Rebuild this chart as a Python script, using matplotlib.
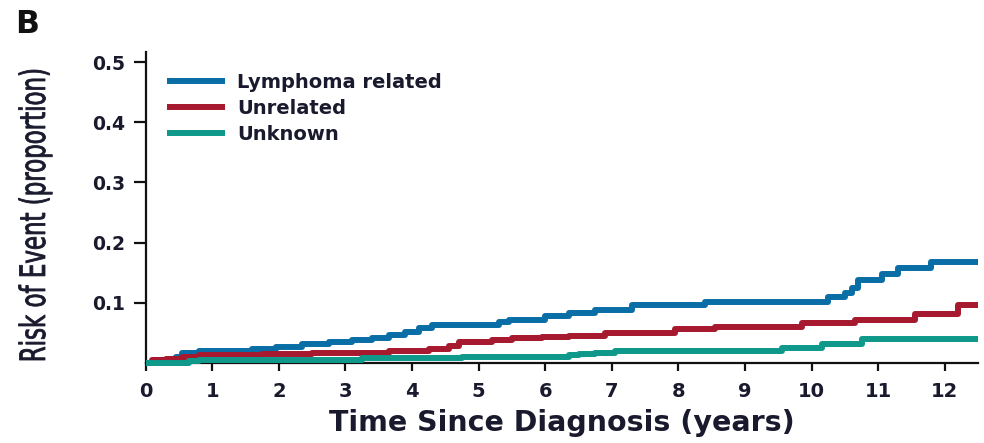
import matplotlib
matplotlib.use("Agg")
import matplotlib.pyplot as plt
from matplotlib.textpath import TextPath
from matplotlib.font_manager import FontProperties
from matplotlib.patches import PathPatch
from matplotlib.transforms import Affine2D, IdentityTransform

# cumulative incidence by cause of event (step curves)
blue_t = [0, 0.15, 0.45, 0.55, 0.8, 1.6, 1.96, 2.35, 2.76, 3.1, 3.4, 3.66, 3.9, 4.1, 4.3,
          5.3, 5.45, 6.0, 6.35, 6.75, 7.3, 8.4, 10.25, 10.5, 10.6, 10.7, 11.05, 11.3, 11.8, 12.5]
blue_v = [0, 0.004, 0.010, 0.016, 0.019, 0.023, 0.027, 0.032, 0.035, 0.038, 0.042, 0.046, 0.052,
          0.058, 0.063, 0.068, 0.071, 0.077, 0.083, 0.087, 0.096, 0.101, 0.110, 0.116, 0.124,
          0.138, 0.148, 0.158, 0.168, 0.168]

red_t = [0, 0.1, 0.3, 0.55, 0.8, 1.75, 2.5, 3.66, 4.26, 4.56, 4.7, 5.2, 5.5, 5.95, 6.35, 6.9,
         7.95, 8.55, 9.85, 10.65, 11.55, 12.2, 12.5]
red_v = [0, 0.004, 0.007, 0.010, 0.013, 0.015, 0.017, 0.020, 0.023, 0.028, 0.035, 0.038, 0.041,
         0.043, 0.045, 0.049, 0.056, 0.060, 0.066, 0.071, 0.081, 0.096, 0.096]

teal_t = [0, 0.65, 0.8, 3.25, 4.75, 6.35, 6.5, 6.75, 7.05, 9.55, 10.15, 10.75, 12.5]
teal_v = [0, 0.003, 0.005, 0.008, 0.010, 0.013, 0.015, 0.017, 0.020, 0.025, 0.031, 0.040, 0.040]

labels = ['Lymphoma related', 'Unrelated', 'Unknown']
colors = ['#0a6ea6', '#a6192e', '#0e998b']

x_ticks = list(range(0, 13))
y_ticks = [0.1, 0.2, 0.3, 0.4, 0.5]

text_col = '#1a1a2e'
bold = {'family': 'DejaVu Sans', 'weight': 'bold'}

W, H = 984, 443
fig = plt.figure(figsize=(W / 100, H / 100), dpi=100)
ax = fig.add_axes([0.148, 0.181, 0.846, 0.702])

series = [(blue_t, blue_v), (red_t, red_v), (teal_t, teal_v)]
for i, ((t, v), lab, c) in enumerate(zip(series, labels, colors)):
    ax.step(t, v, where='post', color=c, lw=4.3, label=lab, zorder=3 + i,
            clip_on=False, solid_capstyle='butt')

ax.set_xlim(0, 12.5)
ax.set_ylim(0, 0.517)

for s in ['top', 'right']:
    ax.spines[s].set_visible(False)
for s in ['left', 'bottom']:
    ax.spines[s].set_linewidth(1.6)
    ax.spines[s].set_color('#111111')

ax.set_xticks(x_ticks)
ax.set_xticklabels([str(x) for x in x_ticks], fontsize=14, color=text_col, **bold)
ax.set_yticks(y_ticks)
ax.set_yticklabels(['%.1f' % y for y in y_ticks], fontsize=13.5, color=text_col, **bold)
ax.tick_params(axis='both', direction='out', width=1.6, color='#111111')
ax.tick_params(axis='x', length=5.5, pad=8)
ax.tick_params(axis='y', length=9, pad=6)

ax.set_xlabel('Time Since Diagnosis (years)', fontsize=20.5, color=text_col,
              labelpad=6, **bold)


def squeezed_label(s, x, y, length, size, rotation=0, weight='normal'):
    # narrow lettering: glyph outlines squeezed along the text direction
    tp = TextPath((0, 0), s, size=size, prop=FontProperties(family='DejaVu Sans',
                                                            weight=weight))
    bb = tp.get_extents()
    tr = (Affine2D().translate(-(bb.x0 + bb.width / 2), 0)
          .scale(length / bb.width, 1).rotate_deg(rotation).translate(x, H - y))
    fig.add_artist(PathPatch(tr.transform_path(tp), transform=IdentityTransform(),
                             facecolor=text_col, edgecolor=text_col, lw=0.6))


squeezed_label('Risk of Event (proportion)', 45, 215, 290, 35, rotation=90)

leg = ax.legend(loc='upper left', bbox_to_anchor=(167 / W, 1 - 72.5 / H),
                bbox_transform=fig.transFigure, frameon=False, borderpad=0,
                borderaxespad=0, handlelength=3.0, handletextpad=0.62,
                labelspacing=0.38, prop={'family': 'DejaVu Sans', 'weight': 'bold',
                                         'size': 14})
for txt in leg.get_texts():
    txt.set_color(text_col)

fig.text(15 / W, 1 - 9 / H, 'B', fontsize=22.7, va='top', color='#111111', **bold)

fig.savefig('out.png', dpi=100)
